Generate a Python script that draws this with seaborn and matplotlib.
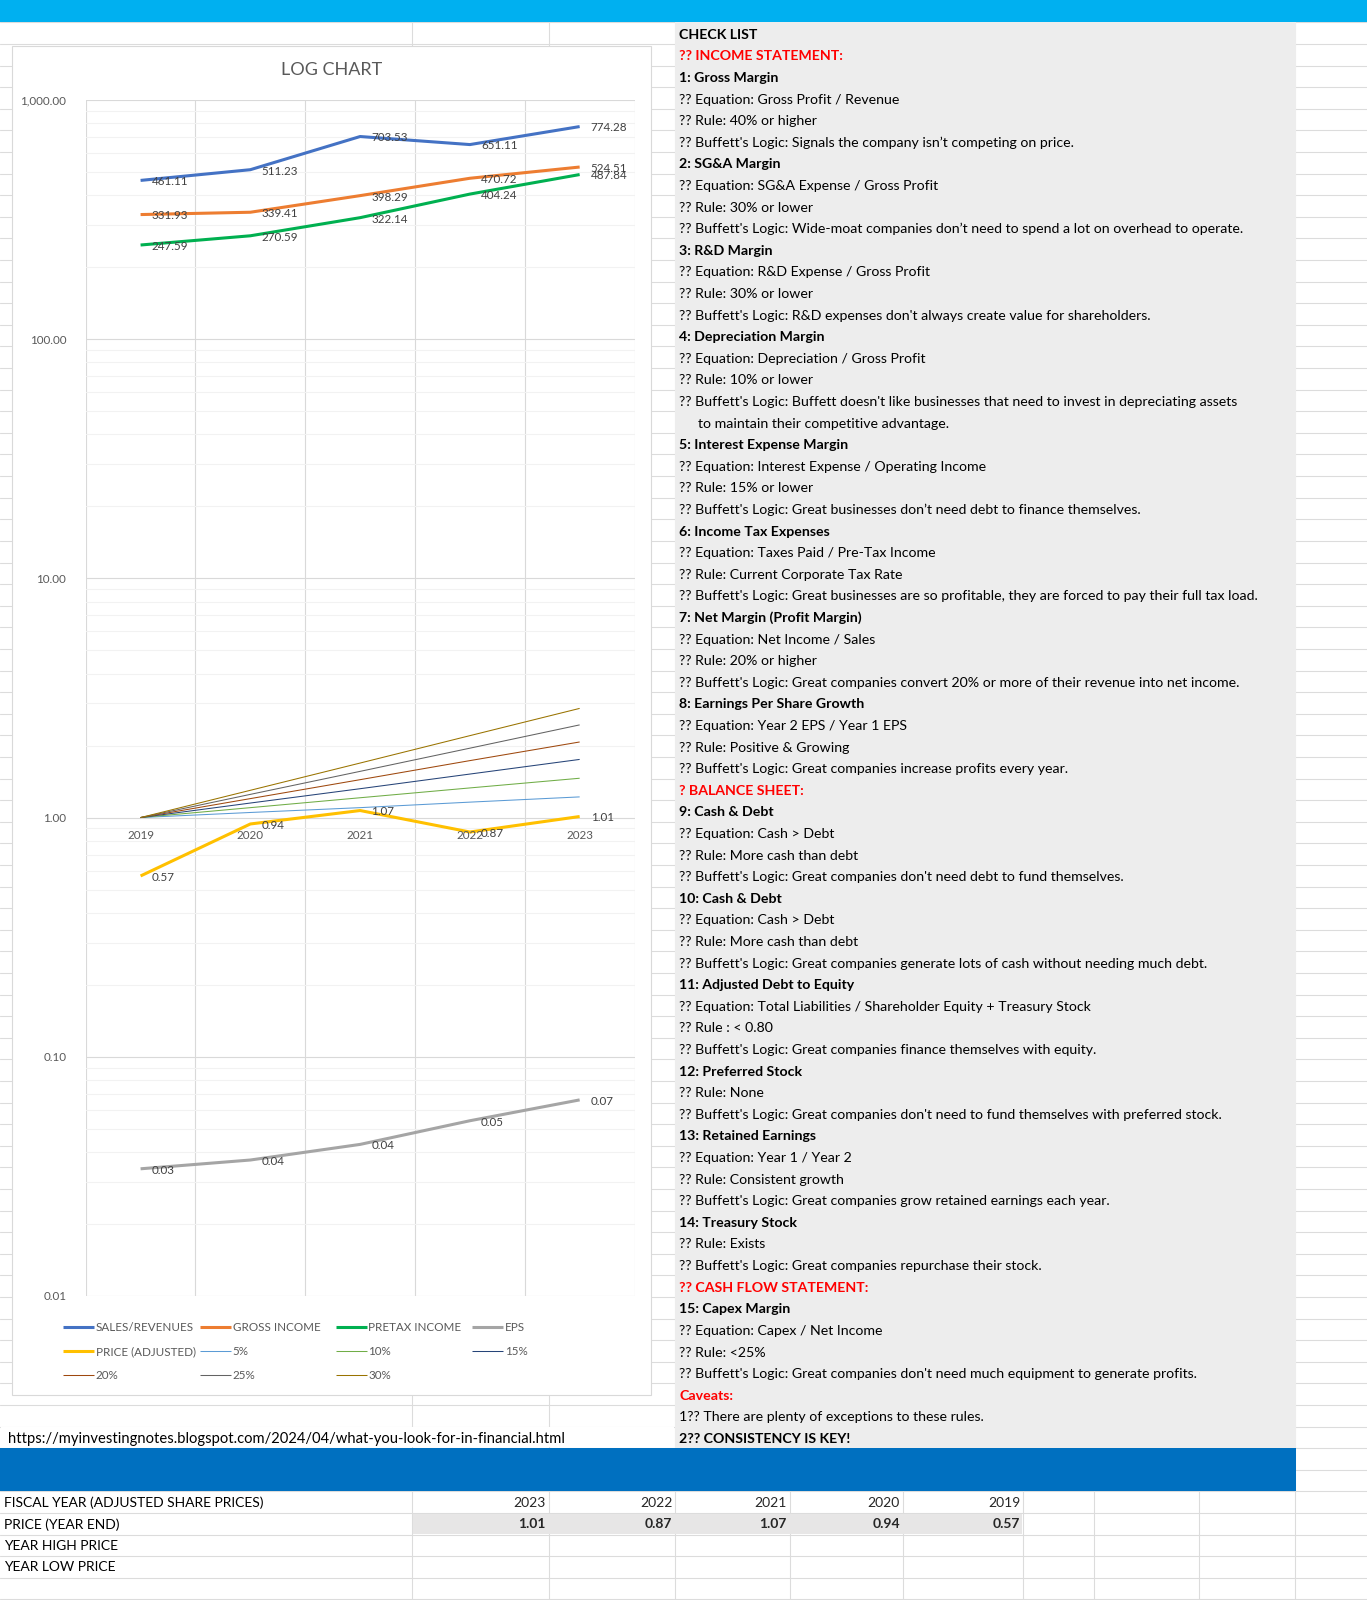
import numpy as np
import pandas as pd
import seaborn as sns
import matplotlib.pyplot as plt
from matplotlib.lines import Line2D
from matplotlib.patches import Rectangle
from matplotlib.ticker import LogLocator, NullFormatter

# sheet measured in reference pixels (1340 x 1568), mapped to figure fractions
W, H = 1340.0, 1568.0
def fx(x):
    return x / W
def fy(y):
    return 1 - y / H

''' chart data '''
years = ["2019", "2020", "2021", "2022", "2023"]
sales = [461.11, 511.23, 703.53, 651.11, 774.28]
gross = [331.93, 339.41, 398.29, 470.72, 524.51]
pretax = [247.59, 270.59, 322.14, 404.24, 487.84]
eps = [0.034, 0.037, 0.043, 0.054, 0.066]
eps_labels = ["0.03", "0.04", "0.04", "0.05", "0.07"]
price = [0.57, 0.94, 1.07, 0.87, 1.01]
g5 = [1.00, 1.05, 1.10, 1.16, 1.22]
g10 = [1.00, 1.10, 1.21, 1.33, 1.46]
g15 = [1.00, 1.15, 1.32, 1.52, 1.75]
g20 = [1.00, 1.20, 1.44, 1.73, 2.07]
g25 = [1.00, 1.25, 1.56, 1.95, 2.44]
g30 = [1.00, 1.30, 1.69, 2.20, 2.86]

''' table data '''
table_years = ["2023", "2022", "2021", "2020", "2019"]
table_prices = ["1.01", "0.87", "1.07", "0.94", "0.57"]
table_rows = ["FISCAL YEAR (ADJUSTED SHARE PRICES)", "PRICE (YEAR END)",
              "YEAR HIGH PRICE", "YEAR LOW PRICE"]

# check list text, style: b = bold, r = red bold, n = normal, i = indented
checklist = [
    ("CHECK LIST", "b"),
    ("?? INCOME STATEMENT:", "r"),
    ("1: Gross Margin", "b"),
    ("?? Equation: Gross Profit / Revenue", "n"),
    ("?? Rule: 40% or higher", "n"),
    ("?? Buffett's Logic: Signals the company isn\u2019t competing on price.", "n"),
    ("2: SG&A Margin", "b"),
    ("?? Equation: SG&A Expense / Gross Profit", "n"),
    ("?? Rule: 30% or lower", "n"),
    ("?? Buffett's Logic: Wide-moat companies don\u2019t need to spend a lot on overhead to operate.", "n"),
    ("3: R&D Margin", "b"),
    ("?? Equation: R&D Expense / Gross Profit", "n"),
    ("?? Rule: 30% or lower", "n"),
    ("?? Buffett's Logic: R&D expenses don't always create value for shareholders.", "n"),
    ("4: Depreciation Margin", "b"),
    ("?? Equation: Depreciation / Gross Profit", "n"),
    ("?? Rule: 10% or lower", "n"),
    ("?? Buffett's Logic: Buffett doesn't like businesses that need to invest in depreciating assets", "n"),
    ("to maintain their competitive advantage.", "i"),
    ("5: Interest Expense Margin", "b"),
    ("?? Equation: Interest Expense / Operating Income", "n"),
    ("?? Rule: 15% or lower", "n"),
    ("?? Buffett's Logic: Great businesses don\u2019t need debt to finance themselves.", "n"),
    ("6: Income Tax Expenses", "b"),
    ("?? Equation: Taxes Paid / Pre-Tax Income", "n"),
    ("?? Rule: Current Corporate Tax Rate", "n"),
    ("?? Buffett's Logic: Great businesses are so profitable, they are forced to pay their full tax load.", "n"),
    ("7: Net Margin (Profit Margin)", "b"),
    ("?? Equation: Net Income / Sales", "n"),
    ("?? Rule: 20% or higher", "n"),
    ("?? Buffett's Logic: Great companies convert 20% or more of their revenue into net income.", "n"),
    ("8: Earnings Per Share Growth", "b"),
    ("?? Equation: Year 2 EPS / Year 1 EPS", "n"),
    ("?? Rule: Positive & Growing", "n"),
    ("?? Buffett's Logic: Great companies increase profits every year.", "n"),
    ("? BALANCE SHEET:", "r"),
    ("9: Cash & Debt", "b"),
    ("?? Equation: Cash > Debt", "n"),
    ("?? Rule: More cash than debt", "n"),
    ("?? Buffett's Logic: Great companies don't need debt to fund themselves.", "n"),
    ("10: Cash & Debt", "b"),
    ("?? Equation: Cash > Debt", "n"),
    ("?? Rule: More cash than debt", "n"),
    ("?? Buffett's Logic: Great companies generate lots of cash without needing much debt.", "n"),
    ("11: Adjusted Debt to Equity", "b"),
    ("?? Equation: Total Liabilities / Shareholder Equity + Treasury Stock", "n"),
    ("?? Rule : < 0.80", "n"),
    ("?? Buffett's Logic: Great companies finance themselves with equity.", "n"),
    ("12: Preferred Stock", "b"),
    ("?? Rule: None", "n"),
    ("?? Buffett's Logic: Great companies don't need to fund themselves with preferred stock.", "n"),
    ("13: Retained Earnings", "b"),
    ("?? Equation: Year 1 / Year 2", "n"),
    ("?? Rule: Consistent growth", "n"),
    ("?? Buffett's Logic: Great companies grow retained earnings each year.", "n"),
    ("14: Treasury Stock", "b"),
    ("?? Rule: Exists", "n"),
    ("?? Buffett's Logic: Great companies repurchase their stock.", "n"),
    ("?? CASH FLOW STATEMENT:", "r"),
    ("15: Capex Margin", "b"),
    ("?? Equation: Capex / Net Income", "n"),
    ("?? Rule: <25%", "n"),
    ("?? Buffett's Logic: Great companies don't need much equipment to generate profits.", "n"),
    ("Caveats:", "r"),
    ("1?? There are plenty of exceptions to these rules.", "n"),
    ("2?? CONSISTENCY IS KEY!", "b"),
]
url = "https://myinvestingnotes.blogspot.com/2024/04/what-you-look-for-in-financial.html"

sns.set_style("white")
plt.rcParams['font.family'] = ['Lato', 'DejaVu Sans']

fig = plt.figure(figsize=(13.67, 16), dpi=100)
fig.patch.set_facecolor("white")

GRID = "#DCDCDC"
ROW = 21.17
TOP = 22.0
row_lines = [TOP + k * ROW for k in range(0, 74)]
col_lines = [404, 538, 662, 774, 885, 1003, 1072, 1175, 1269]

# sheet grid
for y in row_lines:
    fig.add_artist(Line2D([0, 1], [fy(y), fy(y)], color=GRID, lw=0.8, zorder=-5))
for x in col_lines:
    fig.add_artist(Line2D([fx(x), fx(x)], [0, 1], color=GRID, lw=0.8, zorder=-5))

# blocks on top of the grid
fig.add_artist(Rectangle((0, fy(TOP)), 1, TOP / H, color="#00B0F0", zorder=-4, lw=0))
fig.add_artist(Rectangle((fx(662), fy(1419)), fx(1270) - fx(662), (1419 - TOP) / H,
                         color="#EDEDED", zorder=-4, lw=0))
fig.add_artist(Rectangle((0, fy(1461)), fx(1270), 42 / H, color="#0070C0", zorder=-4, lw=0))
fig.add_artist(Rectangle((fx(1), fy(1418.5)), fx(660), (ROW - 1.5) / H, color="white", zorder=-4, lw=0))
fig.add_artist(Rectangle((fx(405), fy(1503.5)), fx(1002) - fx(405), (ROW - 1.5) / H,
                         color="#E7E6E6", zorder=-4, lw=0))
fig.add_artist(Rectangle((fx(12), fy(1367)), fx(638) - fx(12), (1367 - 45) / H,
                         facecolor="white", edgecolor="#D9D9D9", lw=0.8, zorder=-3))

''' log chart '''
ax = fig.add_axes([fx(84), fy(1270), fx(622) - fx(84), (1270 - 98) / H])
ax.set_facecolor("none")
xpos = np.arange(len(years))

series = [
    ("SALES/REVENUES", sales, "#4472C4", 2.2),
    ("GROSS INCOME", gross, "#ED7D31", 2.2),
    ("PRETAX INCOME", pretax, "#00B050", 2.2),
    ("EPS", eps, "#A5A5A5", 2.2),
    ("PRICE (ADJUSTED)", price, "#FFC000", 2.2),
    ("5%", g5, "#5B9BD5", 0.75),
    ("10%", g10, "#70AD47", 0.75),
    ("15%", g15, "#264478", 0.75),
    ("20%", g20, "#9E480E", 0.75),
    ("25%", g25, "#636363", 0.75),
    ("30%", g30, "#997300", 0.75),
]
for name, vals, col, lw in series:
    sns.lineplot(x=xpos, y=vals, color=col, lw=lw, ax=ax, label=name, legend=False,
                 solid_capstyle="butt")

ax.set_yscale("log")
ax.set_ylim(0.01, 1000)
ax.set_xlim(-0.5, 4.5)
ax.set_yticks([0.01, 0.1, 1, 10, 100, 1000])
ax.set_yticklabels(["{:,.2f}".format(v) for v in [0.01, 0.1, 1, 10, 100, 1000]])
ax.yaxis.set_minor_locator(LogLocator(base=10, subs=np.arange(2, 10)))
ax.yaxis.set_minor_formatter(NullFormatter())
ax.set_xticks(np.arange(-0.5, 5, 1))
ax.set_xticklabels([])
ax.tick_params(axis="both", which="both", length=0)
ax.tick_params(axis="y", pad=14, labelsize=8.4, labelcolor="#595959")
ax.grid(True, which="major", color="#D9D9D9", lw=0.8)
ax.grid(True, which="minor", axis="y", color="#F2F2F2", lw=0.8)
for s in ax.spines.values():
    s.set_visible(False)

# category labels sit on the axis that crosses at 1.0
for i, yr in enumerate(years):
    ax.annotate(yr, (i, 1.0), xytext=(0, -9), textcoords="offset points",
                ha="center", va="top", fontsize=8.4, color="#595959")

def label_points(vals, texts):
    for i, (v, t) in enumerate(zip(vals, texts)):
        ax.annotate(t, (i, v), xytext=(8, -1), textcoords="offset points",
                    ha="left", va="center", fontsize=8.4, color="#404040")

for vals in [sales, gross, pretax, price]:
    label_points(vals, ["{:.2f}".format(v) for v in vals])
label_points(eps, eps_labels)

fig.text(fx(325), fy(69), "LOG CHART", ha="center", va="center", fontsize=13, color="#595959")

# legend laid out in four columns, row-major like the Excel chart
handles, labels = ax.get_legend_handles_labels()
leg_cols = [[0, 4, 8], [1, 5, 9], [2, 6, 10], [3, 7]]
leg_x = [62, 196, 329, 463]
for cx, idx in zip(leg_x, leg_cols):
    lg = fig.legend([handles[i] for i in idx], [labels[i] for i in idx],
                    loc="upper left", bbox_to_anchor=(fx(cx), fy(1295.5)),
                    frameon=False, fontsize=8.4, labelcolor="#595959",
                    handlelength=2.65, handletextpad=0.15, labelspacing=1.12,
                    borderpad=0, borderaxespad=0)

''' sheet text '''
for k, (txt, st) in enumerate(checklist):
    yc = TOP + (k + 0.5) * ROW + 1.5
    x0 = 684 if st == "i" else 666
    fig.text(fx(x0), fy(yc), txt, ha="left", va="center", fontsize=10.2,
             color="red" if st == "r" else "black",
             weight="bold" if st in ("b", "r") else "normal")

fig.text(fx(8), fy(TOP + 65.5 * ROW + 1.5), url, ha="left", va="center", fontsize=10.6, color="black")

right_edges = [535, 659, 771, 882, 1000]
for k, name in enumerate(table_rows):
    yc = 1461 + (k + 0.5) * ROW + 1
    fig.text(fx(4), fy(yc), name, ha="left", va="center", fontsize=10, color="black")
for xr, yr, pr in zip(right_edges, table_years, table_prices):
    fig.text(fx(xr), fy(1461 + 0.5 * ROW + 1), yr, ha="right", va="center", fontsize=10)
    fig.text(fx(xr), fy(1461 + 1.5 * ROW + 1), pr, ha="right", va="center", fontsize=10, weight="bold")

plt.savefig("out.png", dpi=100)
